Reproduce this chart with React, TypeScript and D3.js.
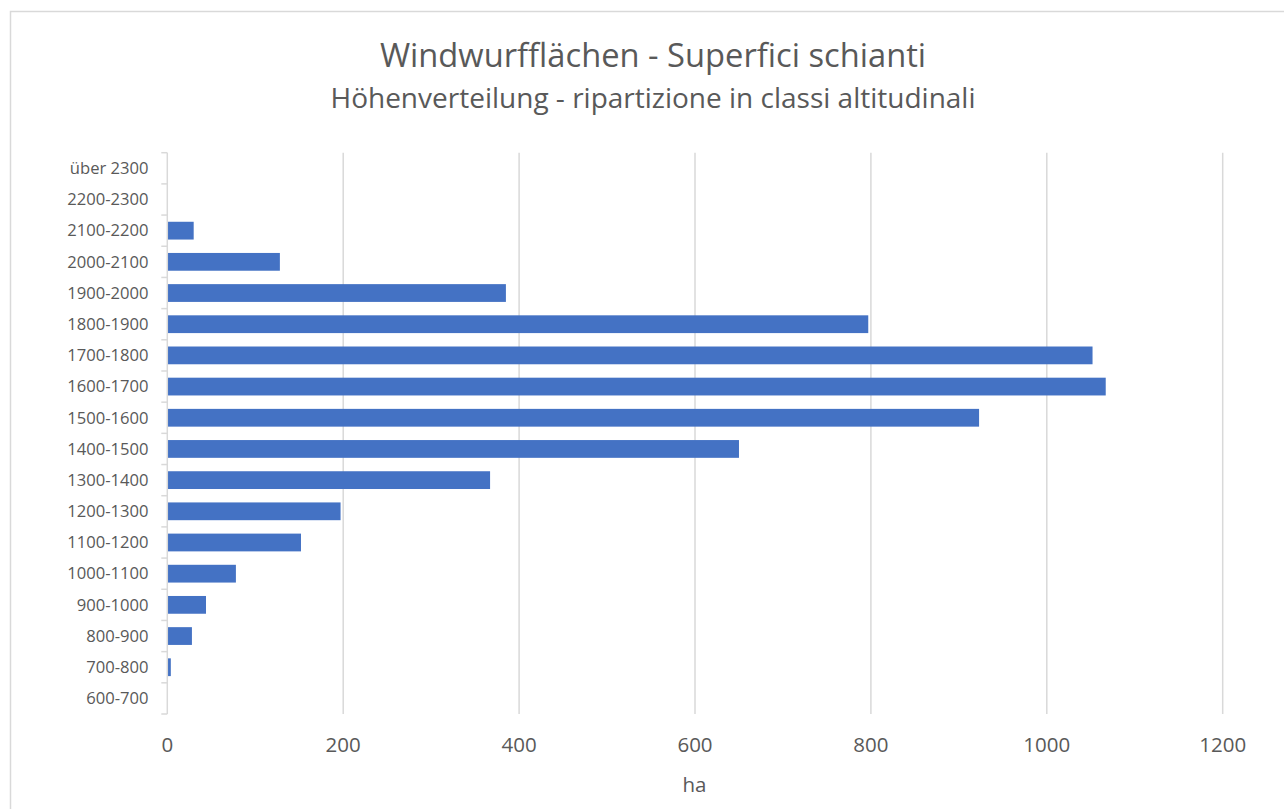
import { scaleBand, scaleLinear } from 'd3';

const categories = [
  'über 2300', '2200-2300', '2100-2200', '2000-2100', '1900-2000', '1800-1900',
  '1700-1800', '1600-1700', '1500-1600', '1400-1500', '1300-1400', '1200-1300',
  '1100-1200', '1000-1100', '900-1000', '800-900', '700-800', '600-700',
];
const hectares = [0, 0, 30, 128, 385, 797, 1052, 1067, 923, 650, 367, 197, 152, 78, 44, 28, 4, 0];
const xTicks = [0, 200, 400, 600, 800, 1000, 1200];

const width = 1284;
const height = 809;
const plot = { left: 167.3, right: 1222.7, top: 152.7, bottom: 714 };
const textColor = '#595959';
const font = '"Open Sans", sans-serif';

export default function App() {
  const x = scaleLinear().domain([0, 1200]).range([plot.left, plot.right]);
  const y = scaleBand<string>()
    .domain(categories)
    .range([plot.top, plot.bottom])
    .paddingInner(0.43)
    .paddingOuter(0.215);
  const step = y.step();
  const bandStart = (c: string) => y(c)! - step * 0.215;

  return (
    <div style={{ position: 'fixed', left: 0, top: 0 }}>
      <svg width={width} height={height} style={{ display: 'block', background: '#fff' }} fontFamily={font}>
        <rect x={10.5} y={11.5} width={1290} height={810} fill="#fff" stroke="#d9d9d9" strokeWidth={1.5} />

        <text x={653} y={67} textAnchor="middle" fontSize={32.7} fill={textColor}>
          Windwurfflächen - Superfici schianti
        </text>
        <text x={653} y={108} textAnchor="middle" fontSize={28} fill={textColor}>
          Höhenverteilung - ripartizione in classi altitudinali
        </text>

        {xTicks.map(t => (
          <g key={t}>
            {t > 0 && (
              <line x1={x(t)} x2={x(t)} y1={plot.top} y2={plot.bottom} stroke="#d9d9d9" strokeWidth={1.5} />
            )}
            <text x={x(t)} y={752} textAnchor="middle" fontSize={20.5} fill={textColor}>{t}</text>
          </g>
        ))}

        {categories.map((c, i) => (
          <rect
            key={c}
            x={x(0)}
            y={y(c)}
            width={x(hectares[i]) - x(0)}
            height={y.bandwidth()}
            fill="#4472C4"
          />
        ))}

        <line x1={plot.left} x2={plot.left} y1={plot.top} y2={plot.bottom} stroke="#d9d9d9" strokeWidth={1.5} />
        {categories.map(c => (
          <line key={c} x1={plot.left - 6} x2={plot.left} y1={bandStart(c)} y2={bandStart(c)} stroke="#d9d9d9" strokeWidth={1.5} />
        ))}
        <line x1={plot.left - 6} x2={plot.left} y1={plot.bottom} y2={plot.bottom} stroke="#d9d9d9" strokeWidth={1.5} />

        {categories.map(c => (
          <text
            key={c}
            x={148.5}
            y={y(c)! + y.bandwidth() / 2}
            dy="0.35em"
            textAnchor="end"
            fontSize={16.6}
            fill={textColor}
          >
            {c}
          </text>
        ))}

        <text x={694.5} y={792} textAnchor="middle" fontSize={20.5} fill={textColor}>ha</text>
      </svg>
    </div>
  );
}
